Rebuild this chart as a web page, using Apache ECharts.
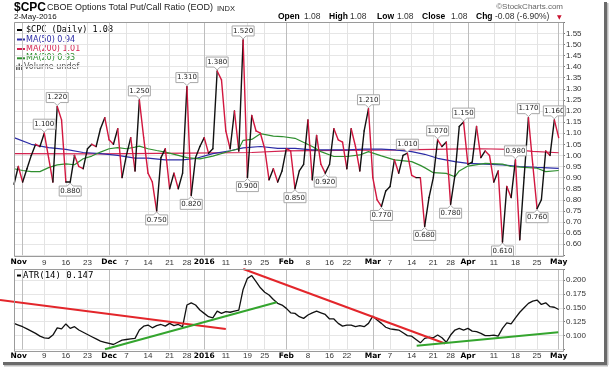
<!DOCTYPE html>
<html><head><meta charset="utf-8">
<script src="https://cdn.jsdelivr.net/npm/echarts@6/dist/echarts.min.js"></script>
<style>html,body{margin:0;padding:0;background:#fff}#c{width:609px;height:368px}</style>
</head><body><div id="c"></div>
<script>
const dates = ['10-29','10-30','11-02','11-03','11-04','11-05','11-06','11-09','11-10','11-11','11-12','11-13','11-16','11-17','11-18','11-19','11-20','11-23','11-24','11-25','11-27','11-30','12-01','12-02','12-03','12-04','12-07','12-08','12-09','12-10','12-11','12-14','12-15','12-16','12-17','12-18','12-21','12-22','12-23','12-24','12-28','12-29','12-30','12-31','01-04','01-05','01-06','01-07','01-08','01-11','01-12','01-13','01-14','01-15','01-19','01-20','01-21','01-22','01-25','01-26','01-27','01-28','01-29','02-01','02-02','02-03','02-04','02-05','02-08','02-09','02-10','02-11','02-12','02-16','02-17','02-18','02-19','02-22','02-23','02-24','02-25','02-26','02-29','03-01','03-02','03-03','03-04','03-07','03-08','03-09','03-10','03-11','03-14','03-15','03-16','03-17','03-18','03-21','03-22','03-23','03-24','03-28','03-29','03-30','03-31','04-01','04-04','04-05','04-06','04-07','04-08','04-11','04-12','04-13','04-14','04-15','04-18','04-19','04-20','04-21','04-22','04-25','04-26','04-27','04-28','04-29','05-02'];

const cpc = [0.87,0.95,0.88,0.94,1.00,1.05,1.04,1.10,0.99,0.88,
 1.22,1.16,0.88,0.88,1.00,0.95,0.94,1.03,1.05,1.04,
 1.12,1.17,1.07,1.05,1.12,0.90,1.00,1.08,0.93,1.25,
 1.08,0.92,0.88,0.75,0.99,1.03,0.85,0.92,0.85,0.92,
 1.31,0.82,0.99,1.04,1.08,1.01,1.03,1.38,1.34,1.11,
 1.03,1.20,1.02,1.52,0.90,1.18,1.11,1.10,1.03,0.89,
 0.94,0.88,0.93,1.03,1.02,0.85,0.93,0.96,1.16,0.89,
 1.09,0.96,0.92,0.96,1.12,1.07,1.06,0.94,1.12,1.04,
 0.93,1.11,1.21,0.90,0.80,0.77,0.84,0.86,0.98,0.92,
 1.00,1.01,0.91,0.90,0.90,0.68,0.81,0.90,1.07,1.04,
 1.06,0.78,0.91,1.13,1.15,0.96,0.97,1.13,0.99,1.02,
 1.00,0.88,0.93,0.61,0.86,0.81,0.98,0.62,0.90,1.17,
 0.96,0.76,0.80,1.02,1.00,1.16,1.08];

const ma50 = [['10-29',1.08],['11-04',1.05],['11-10',1.035],['11-16',1.027],['11-20',1.013],['11-27',1.008],['12-03',1.0],['12-09',0.988],['12-14',0.988],['12-18',0.98],['12-24',0.98],['12-30',0.986],['01-06',1.008],['01-12',1.021],['01-15',1.034],['01-22',1.04],['01-28',1.032],['02-03',1.032],['02-09',1.025],['02-16',1.025],['02-22',1.025],['02-26',1.028],['03-03',1.028],['03-08',1.025],['03-14',1.017],['03-17',1.005],['03-22',0.987],['03-29',0.972],['04-01',0.964],['04-07',0.961],['04-13',0.957],['04-19',0.95],['04-25',0.946],['05-02',0.942]];

const ma200 = [['10-29',1.008],['11-27',1.007],['12-28',1.01],['01-20',1.013],['02-01',1.02],['02-18',1.023],['03-10',1.025],['03-24',1.028],['04-06',1.03],['04-15',1.027],['04-22',1.018],['05-02',1.012]];

const ma20 = [['10-29',0.94],['11-02',0.932],['11-04',0.927],['11-06',0.927],['11-10',0.945],['11-12',0.957],['11-16',0.962],['11-18',0.958],['11-20',0.985],['11-24',0.997],['11-27',1.015],['12-01',1.03],['12-03',1.035],['12-07',1.03],['12-09',1.037],['12-10',1.042],['12-14',1.03],['12-16',1.022],['12-18',1.015],['12-23',1.0],['12-28',0.99],['12-31',0.984],['01-06',0.997],['01-12',1.02],['01-14',1.03],['01-15',1.068],['01-20',1.072],['01-22',1.098],['01-27',1.087],['01-29',1.085],['02-03',1.077],['02-09',1.04],['02-11',1.017],['02-17',0.995],['02-22',0.995],['02-25',1.002],['02-29',1.017],['03-03',0.998],['03-08',0.98],['03-14',0.972],['03-16',0.955],['03-17',0.945],['03-21',0.922],['03-24',0.919],['03-29',0.904],['03-30',0.93],['04-01',0.952],['04-07',0.964],['04-13',0.961],['04-15',0.95],['04-20',0.946],['04-25',0.942],['04-27',0.927],['05-02',0.932]];

const atr = [0.122,0.119,0.116,0.112,0.108,0.104,0.099,0.096,0.095,0.101,
 0.114,0.112,0.121,0.113,0.116,0.110,0.106,0.102,0.098,0.094,
 0.090,0.088,0.086,0.084,0.088,0.092,0.093,0.094,0.095,0.110,
 0.117,0.119,0.114,0.118,0.120,0.117,0.122,0.118,0.120,0.116,
 0.155,0.159,0.155,0.146,0.140,0.134,0.132,0.144,0.140,0.143,
 0.142,0.144,0.146,0.183,0.203,0.208,0.197,0.186,0.178,0.173,
 0.165,0.158,0.155,0.149,0.141,0.140,0.134,0.131,0.137,0.141,
 0.144,0.141,0.138,0.130,0.130,0.122,0.117,0.119,0.119,0.116,
 0.118,0.116,0.122,0.135,0.128,0.122,0.115,0.112,0.111,0.110,
 0.105,0.100,0.099,0.093,0.087,0.095,0.097,0.096,0.101,0.096,
 0.088,0.101,0.110,0.113,0.110,0.113,0.108,0.107,0.104,0.100,
 0.100,0.101,0.099,0.113,0.123,0.121,0.132,0.142,0.150,0.158,
 0.162,0.164,0.156,0.159,0.152,0.151,0.147];

// tick labels on the date axis
const tickLabels = {'11-02':'Nov','11-09':'9','11-16':'16','11-23':'23','12-01':'Dec','12-07':'7','12-14':'14','12-21':'21','12-28':'28','01-04':'2016','01-11':'11','01-19':'19','01-25':'25','02-01':'Feb','02-08':'8','02-16':'16','02-22':'22','03-01':'Mar','03-07':'7','03-14':'14','03-21':'21','03-28':'28','04-01':'Apr','04-11':'11','04-18':'18','04-25':'25','05-02':'May'};
const monthTicks = ['11-02','12-01','01-04','02-01','03-01','04-01','05-02'];

// value callouts
const peakDates = ['11-09','11-12','12-10','12-28','01-07','01-15','02-29','03-11','03-22','03-31','04-18','04-21','04-29'];
const troughDates = ['11-17','12-16','12-29','01-19','02-03','02-12','03-03','03-17','03-28','04-13','04-25'];

// ATR trend lines: [startIndex, startValue, endIndex, endValue, colour]
const trendLines = [
  [-3.24, 0.164, 49.0, 0.1119, '#e3262b'],
  [21.05, 0.0754, 60.77, 0.1599, '#34a52e'],
  [53.04, 0.2198, 99.7, 0.0858, '#e3262b'],
  [93.15, 0.0818, 125.9, 0.1059, '#34a52e']
];

const xCats = dates.concat([' ']);
const monthSet = new Set(monthTicks);

function xAx(grid, monthly, margin) {
  return {
    type: 'category', gridIndex: grid, data: xCats, boundaryGap: false,
    axisLine: {show: false}, axisTick: {show: false},
    axisLabel: monthly ? {show: false} : {
      show: true, margin: margin,
      interval: (i, v) => tickLabels[v] !== undefined,
      formatter: (v) => {
        const t = tickLabels[v];
        if (!t) return '';
        if (v === '11-02') return '{n|' + t + '}';
        if (v === '05-02') return '{y|' + t + '}';
        return monthSet.has(v) ? '{m|' + t + '}' : '{d|' + t + '}';
      },
      rich: {
        m: {fontFamily: 'DejaVu Sans', fontWeight: 'bold', fontSize: 7.5, color: '#000'},
        n: {fontFamily: 'DejaVu Sans', fontWeight: 'bold', fontSize: 7.5, color: '#000', padding: [0, 8, 0, 0]},
        y: {fontFamily: 'DejaVu Sans', fontWeight: 'bold', fontSize: 7.5, color: '#000', padding: [0, 0, 0, 0]},
        d: {fontFamily: 'Liberation Sans', fontSize: 8, color: '#333'}
      }
    },
    splitLine: {
      show: true,
      interval: (i, v) => monthly ? monthSet.has(v) : (tickLabels[v] !== undefined && !monthSet.has(v)),
      lineStyle: {color: monthly ? '#bdbdbd' : '#e3e3e3', width: 1}
    }
  };
}

const segData = cpc.map((v, i) => [i, v, i > 0 ? cpc[i - 1] : v]);
const calloutData = peakDates.map(d => { const i = dates.indexOf(d); return [i, cpc[i], 1]; })
  .concat(troughDates.map(d => { const i = dates.indexOf(d); return [i, cpc[i], -1]; }));

function T(x, y, text, font, fill, align) {
  return {type: 'text', x: x, y: y, silent: true,
    style: {text: text, font: font, fill: fill, align: align || 'left', verticalAlign: 'middle'}};
}
function L(x1, y1, x2, y2, color, w) {
  return {type: 'line', silent: true, shape: {x1: x1, y1: y1, x2: x2, y2: y2}, style: {stroke: color, lineWidth: w || 2}};
}

const chart = echarts.init(document.getElementById('c'), null, {renderer: 'canvas', width: 609, height: 368});
const option = {
  animation: false,
  backgroundColor: '#fff',
  grid: [
    {left: 14, right: 46, top: 22.2, height: 233.1, containLabel: false, outerBoundsMode: 'none'},
    {left: 14, right: 46, top: 269, height: 80.5, containLabel: false, outerBoundsMode: 'none'}
  ],
  xAxis: [xAx(0, false, 3), xAx(0, true, 3), xAx(1, false, 2.5), xAx(1, true, 2.5)],
  yAxis: [
    {type: 'value', gridIndex: 0, position: 'right', min: 0.55, max: 1.60, interval: 0.05,
      axisLine: {show: false}, axisTick: {show: true, length: 2, lineStyle: {color: '#777'}},
      axisLabel: {margin: 3, fontSize: 8, fontFamily: 'Liberation Sans', color: '#333',
        formatter: v => (v > 0.575 && v < 1.575) ? v.toFixed(2) : ''},
      splitLine: {lineStyle: {color: '#e6e6e6'}}},
    {type: 'value', gridIndex: 1, position: 'right', min: 0.075, max: 0.2198, interval: 0.025,
      axisLine: {show: false}, axisTick: {show: true, length: 2, lineStyle: {color: '#777'}},
      axisLabel: {margin: 3, fontSize: 8, fontFamily: 'Liberation Sans', color: '#333',
        formatter: v => (v > 0.09 && v < 0.21) ? v.toFixed(3) : ''},
      splitLine: {lineStyle: {color: '#e6e6e6'}}}
  ],
  series: [
    {type: 'line', xAxisIndex: 0, yAxisIndex: 0, data: ma200, showSymbol: false, silent: true,
      lineStyle: {color: '#d3224f', width: 1.2}, z: 2},
    {type: 'line', xAxisIndex: 0, yAxisIndex: 0, data: ma50, showSymbol: false, silent: true,
      lineStyle: {color: '#2c2ca6', width: 1.2}, z: 2},
    {type: 'line', xAxisIndex: 0, yAxisIndex: 0, data: ma20, showSymbol: false, silent: true,
      lineStyle: {color: '#2f8f2f', width: 1.2}, z: 2},
    {type: 'custom', xAxisIndex: 0, yAxisIndex: 0, data: segData, encode: {x: 0, y: 1}, z: 3, silent: true,
      renderItem: function (params, api) {
        const i = api.value(0);
        if (i === 0) return null;
        const a = api.coord([i - 1, api.value(2)]);
        const b = api.coord([i, api.value(1)]);
        const up = api.value(1) >= api.value(2);
        return {type: 'line', shape: {x1: a[0], y1: a[1], x2: b[0], y2: b[1]},
          style: {stroke: up ? '#111' : '#d2173f', lineWidth: 1.4, lineCap: 'round'}};
      }},
    {type: 'custom', xAxisIndex: 0, yAxisIndex: 0, data: calloutData, encode: {x: 0, y: 1}, z: 5, clip: false, silent: true,
      renderItem: function (params, api) {
        const p = api.coord([api.value(0), api.value(1)]);
        const s = api.value(2);
        const x = p[0], y = p[1];
        const w = 22, h = 10, g = 1, t = 3;
        const tipY = y - s * g, baseY = y - s * (g + t), farY = y - s * (g + t + h);
        const pts = [[x, tipY], [x + 3, baseY], [x + w / 2, baseY], [x + w / 2, farY], [x - w / 2, farY], [x - w / 2, baseY], [x - 3, baseY]];
        return {type: 'group', children: [
          {type: 'polygon', shape: {points: pts}, style: {fill: '#fff', stroke: '#a8a8a8', lineWidth: 1}},
          {type: 'text', x: x, y: (baseY + farY) / 2, style: {text: api.value(1).toFixed(3), fill: '#222',
            font: '7px "DejaVu Sans"', align: 'center', verticalAlign: 'middle'}}
        ]};
      }},
    {type: 'line', xAxisIndex: 2, yAxisIndex: 1, data: atr, showSymbol: false, silent: true,
      lineStyle: {color: '#111', width: 1.3}, z: 3},
    {type: 'custom', xAxisIndex: 2, yAxisIndex: 1, data: trendLines.map(t => [0, t[1]]), encode: {x: 0, y: 1},
      z: 4, clip: false, silent: true,
      renderItem: function (params, api) {
        const t = trendLines[params.dataIndex];
        const o0 = api.coord([0, t[1]]), o1 = api.coord([1, t[1]]);
        const dx = o1[0] - o0[0];
        const ya = o0[1], yb = api.coord([0, t[3]])[1];
        return {type: 'line', shape: {x1: o0[0] + dx * t[0], y1: ya, x2: o0[0] + dx * t[2], y2: yb},
          style: {stroke: t[4], lineWidth: 2}};
      }}
  ],
  graphic: [
    {type: 'rect', silent: true, shape: {x: 14.5, y: 22.5, width: 549, height: 234}, style: {fill: 'none', stroke: '#9a9a9a', lineWidth: 1}, z: 10},
    {type: 'rect', silent: true, shape: {x: 14.5, y: 269.5, width: 549, height: 82}, style: {fill: 'none', stroke: '#9a9a9a', lineWidth: 1}, z: 10},
    {type: 'rect', silent: true, shape: {x: 604, y: 2, width: 3, height: 363}, style: {fill: '#6a6a6a'}},
    {type: 'rect', silent: true, shape: {x: 607, y: 3, width: 1.5, height: 362}, style: {fill: '#bbbbbb'}},
    {type: 'rect', silent: true, shape: {x: 3, y: 362, width: 604, height: 3}, style: {fill: '#6a6a6a'}},
    {type: 'rect', silent: true, shape: {x: 4, y: 365, width: 604, height: 1.5}, style: {fill: '#bbbbbb'}},
    T(14, 7.5, '$CPC', 'bold 12px "Liberation Sans"', '#000'),
    T(47, 8, 'CBOE Options Total Put/Call Ratio (EOD)', '9px "Liberation Sans"', '#222'),
    T(217, 8.5, 'INDX', '7.5px "Liberation Sans"', '#222'),
    T(14, 16.5, '2-May-2016', '8px "Liberation Sans"', '#111'),
    T(563, 6.5, '\u00a9StockCharts.com', '8px "Liberation Sans"', '#666', 'right'),
    T(278, 17, 'Open', 'bold 8.5px "Liberation Sans"', '#000'),
    T(304, 17, '1.08', '8.5px "Liberation Sans"', '#333'),
    T(329, 17, 'High', 'bold 8.5px "Liberation Sans"', '#000'),
    T(350, 17, '1.08', '8.5px "Liberation Sans"', '#333'),
    T(377, 17, 'Low', 'bold 8.5px "Liberation Sans"', '#000'),
    T(397, 17, '1.08', '8.5px "Liberation Sans"', '#333'),
    T(422, 17, 'Close', 'bold 8.5px "Liberation Sans"', '#000'),
    T(451, 17, '1.08', '8.5px "Liberation Sans"', '#333'),
    T(476, 17, 'Chg', 'bold 8.5px "Liberation Sans"', '#000'),
    T(495, 17, '-0.08 (-6.90%)', '8.5px "Liberation Sans"', '#333'),
    T(557, 17.5, '\u25bc', '6px "DejaVu Sans"', '#c8102e'),
    L(17, 30, 23, 30, '#000', 2),
    T(26, 30, '$CPC (Daily) 1.08', '8.5px "DejaVu Sans Mono"', '#000'),
    L(17, 39.5, 25, 39.5, '#2c2ca6', 2),
    T(26, 39.5, 'MA(50) 0.94', '8px "DejaVu Sans"', '#2c2ca6'),
    L(17, 49, 25, 49, '#d3224f', 2),
    T(26, 49, 'MA(200) 1.01', '8px "DejaVu Sans"', '#d3224f'),
    L(17, 58.3, 25, 58.3, '#2f8f2f', 2),
    T(26, 58.3, 'MA(20) 0.93', '8px "DejaVu Sans"', '#2f8f2f'),
    {type: 'rect', silent: true, shape: {x: 16, y: 65.5, width: 1.5, height: 4.5}, style: {fill: '#666'}},
    {type: 'rect', silent: true, shape: {x: 18.5, y: 63.5, width: 1.5, height: 6.5}, style: {fill: '#666'}},
    {type: 'rect', silent: true, shape: {x: 21, y: 65, width: 1.5, height: 5}, style: {fill: '#666'}},
    T(24, 67.3, 'Volume undef', '8px "DejaVu Sans"', '#555'),
    L(17, 275.5, 21, 275.5, '#000', 2),
    T(23, 275.5, 'ATR(14) 0.147', '9px "DejaVu Sans Mono"', '#000')
  ]
};
chart.setOption(option);
</script>
</body></html>
